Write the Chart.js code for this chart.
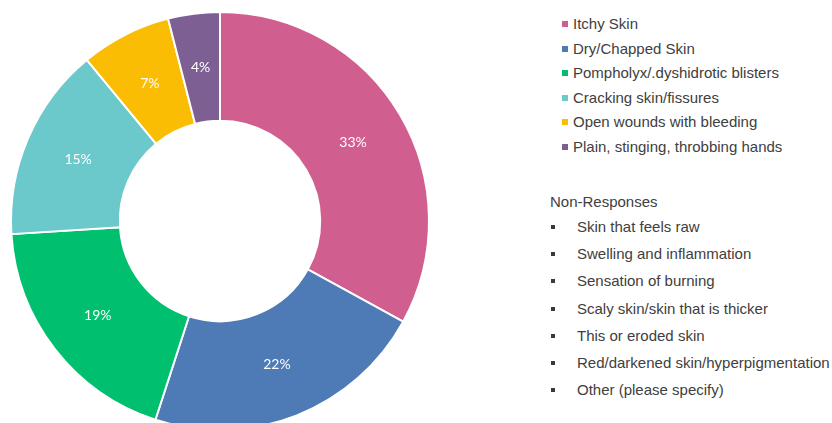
<!DOCTYPE html>
<html>
<head>
<meta charset="utf-8">
<script src="https://cdn.jsdelivr.net/npm/chart.js@4"></script>
<style>
  html, body { margin: 0; padding: 0; background: #fff; overflow: hidden; }
  body { width: 832px; height: 423px; position: relative; }
  #ringBox { position: absolute; left: 0; top: 0; width: 440px; height: 442px; }
  .legend { position: absolute; font-family: "Liberation Sans", Arial, sans-serif; font-size: 15px; color: #404040; }
  .row { position: absolute; left: 0; white-space: nowrap; line-height: 16px; }
  .swatch { position: absolute; width: 6px; height: 6px; }
  .bullet { position: absolute; width: 4px; height: 4px; background: #3a3a3a; }
</style>
</head>
<body>
<div id="ringBox"><canvas id="symptomChart" width="440" height="442"></canvas></div>
<div class="legend" id="legendTop"></div>
<div class="legend" id="legendOther"></div>
<script>
const symptoms = [
  "Itchy Skin",
  "Dry/Chapped Skin",
  "Pompholyx/.dyshidrotic blisters",
  "Cracking skin/fissures",
  "Open wounds with bleeding",
  "Plain, stinging, throbbing hands"
];
const shares = [33, 22, 19, 15, 7, 4];
const sliceColors = ["#D05F8F", "#4E7AB6", "#00BF6F", "#6BC8CB", "#FBBC04", "#7E5F93"];
const nonResponses = [
  "Skin that feels raw",
  "Swelling and inflammation",
  "Sensation of burning",
  "Scaly skin/skin that is thicker",
  "This or eroded skin",
  "Red/darkened skin/hyperpigmentation",
  "Other (please specify)"
];

// percent labels in the middle of each slice
const sliceLabels = {
  id: "sliceLabels",
  afterDatasetsDraw(chart) {
    const ctx = chart.ctx;
    const meta = chart.getDatasetMeta(0);
    ctx.save();
    ctx.font = "14px Lato, 'Open Sans', sans-serif";
    ctx.fillStyle = "#ffffff";
    ctx.textAlign = "center";
    ctx.textBaseline = "middle";
    meta.data.forEach((arc, i) => {
      const p = arc.tooltipPosition();
      ctx.fillText(chart.data.datasets[0].data[i] + "%", p.x, p.y);
    });
    ctx.restore();
  }
};

new Chart(document.getElementById("symptomChart"), {
  type: "doughnut",
  data: {
    labels: symptoms,
    datasets: [{
      data: shares,
      backgroundColor: sliceColors,
      borderColor: "#ffffff",
      borderWidth: 2
    }]
  },
  options: {
    responsive: false,
    animation: false,
    radius: 209,
    cutout: 105,
    layout: { padding: 0 },
    plugins: {
      legend: { display: false },
      tooltip: { enabled: false }
    }
  },
  plugins: [sliceLabels]
});

// legend for the drawn slices
const legendTop = document.getElementById("legendTop");
legendTop.style.left = "562px";
legendTop.style.top = "0px";
symptoms.forEach((name, i) => {
  const y = 24 + i * 24.6;
  const sw = document.createElement("div");
  sw.className = "swatch";
  sw.style.left = "0px";
  sw.style.top = (y - 3) + "px";
  sw.style.background = sliceColors[i];
  legendTop.appendChild(sw);
  const t = document.createElement("div");
  t.className = "row";
  t.style.left = "11px";
  t.style.top = (y - 8) + "px";
  t.textContent = name;
  legendTop.appendChild(t);
});

// list of answers with no responses
const legendOther = document.getElementById("legendOther");
legendOther.style.left = "550px";
legendOther.style.top = "0px";
const head = document.createElement("div");
head.className = "row";
head.style.top = (202 - 8) + "px";
head.textContent = "Non-Responses";
legendOther.appendChild(head);
nonResponses.forEach((name, i) => {
  const y = 227 + i * 27.2;
  const b = document.createElement("div");
  b.className = "bullet";
  b.style.left = "1px";
  b.style.top = (y - 2) + "px";
  legendOther.appendChild(b);
  const t = document.createElement("div");
  t.className = "row";
  t.style.left = "27px";
  t.style.top = (y - 8) + "px";
  t.textContent = name;
  legendOther.appendChild(t);
});
</script>
</body>
</html>
